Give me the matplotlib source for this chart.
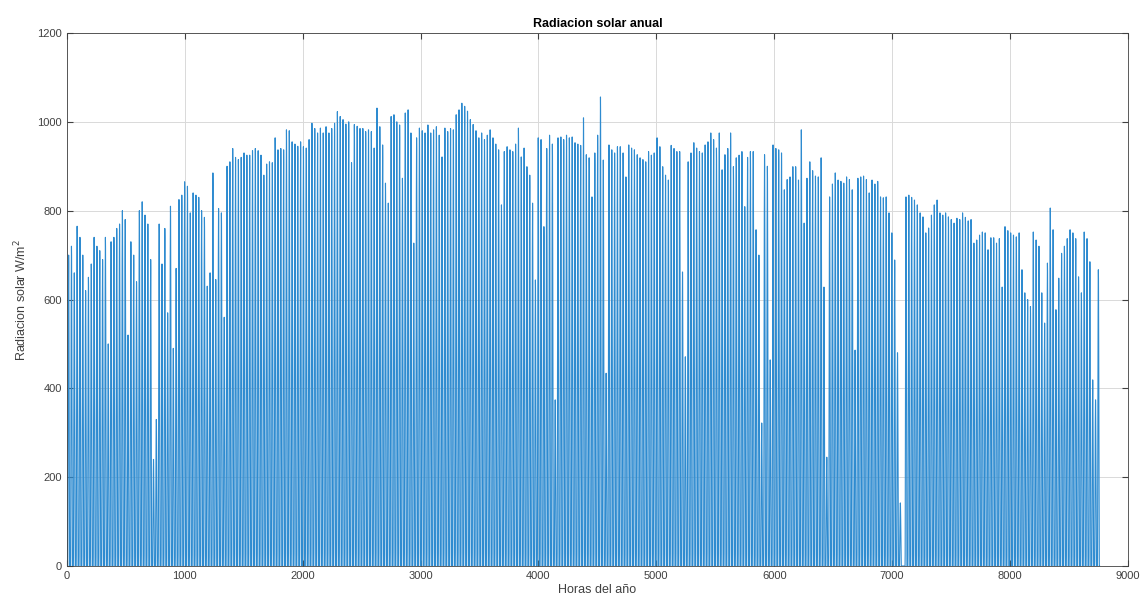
import matplotlib

matplotlib.use("Agg")
import matplotlib.pyplot as plt
import numpy as np

# Daily peak irradiance (W/m2), one value per day
DAILY_PEAK = [
    # days 0-36
    700, 720, 660, 765, 740, 700, 620, 650, 680, 740, 720, 710, 690, 740, 500,
    730, 740, 760, 770, 800, 780, 520, 730, 700, 640, 800, 820, 790, 770, 690,
    240, 330, 770, 680, 760, 570, 810,
    # days 37-71
    490, 670, 825, 835, 865, 855, 795, 840, 835, 830, 800, 785, 630, 660, 885,
    645, 805, 795, 560, 900, 910, 940, 920, 915, 920, 930, 925, 925, 935, 940,
    935, 925, 880, 905, 910,
    # days 72-106
    908, 964, 937, 940, 937, 982, 980, 955, 950, 945, 955, 944, 941, 960, 997,
    985, 975, 986, 975, 989, 975, 985, 997, 1023, 1012, 1005, 995, 1000, 908,
    994, 990, 985, 985, 978, 982,
    # days 107-141
    978, 941, 1031, 989, 948, 862, 817, 1012, 1016, 1000, 993, 873, 1020, 1027,
    975, 727, 964, 986, 980, 975, 993, 975, 982, 989, 970, 921, 986, 978, 985,
    982, 1016, 1027, 1042, 1035, 1024,
    # days 142-177
    1005, 994, 980, 964, 975, 960, 970, 982, 964, 950, 937, 813, 933, 944, 937,
    933, 950, 986, 921, 941, 899, 880, 817, 644, 964, 960, 764, 940, 970, 950,
    374, 964, 966, 960, 970, 964,
    # days 178-212
    966, 953, 950, 947, 1009, 926, 919, 831, 930, 970, 1056, 914, 434, 948, 937,
    930, 944, 944, 930, 876, 948, 941, 937, 926, 919, 915, 910, 933, 925, 930,
    964, 944, 899, 880, 869,
    # days 213-248
    947, 940, 933, 933, 662, 471, 910, 930, 953, 941, 933, 930, 948, 955, 975,
    960, 941, 975, 892, 926, 940, 975, 899, 919, 925, 933, 809, 920, 933, 933,
    757, 700, 322, 926, 900, 464,
    # days 249-283
    948, 940, 937, 930, 847, 870, 876, 899, 899, 869, 982, 772, 873, 910, 890,
    878, 876, 919, 628, 245, 831, 860, 885, 869, 866, 862, 876, 870, 847, 486,
    873, 876, 878, 870, 840,
    # days 284-318
    869, 860, 866, 831, 829, 831, 795, 750, 689, 480, 142, 0, 831, 835, 830,
    824, 813, 795, 786, 750, 761, 790, 813, 824, 795, 790, 795, 786, 780, 772,
    783, 780, 795, 785, 777,
    # days 319-354
    780, 727, 734, 745, 752, 750, 712, 739, 739, 727, 737, 628, 764, 755, 750,
    745, 741, 750, 667, 615, 600, 584, 752, 734, 720, 615, 547, 682, 806, 757,
    577, 648, 704, 720, 737, 757,
    # days 355-364
    750, 737, 651, 615, 752, 737, 685, 419, 374, 667,
]

# Typical shape of one day, fraction of the daily peak for each hour 0..23
HOUR_PROFILE = [0, 0, 0, 0, 0, 0, 0.03, 0.15, 0.34, 0.54, 0.72, 0.86,
                0.95, 1.0, 0.97, 0.88, 0.74, 0.56, 0.36, 0.16, 0.03, 0, 0, 0]

X_TICKS = [0, 1000, 2000, 3000, 4000, 5000, 6000, 7000, 8000, 9000]
Y_TICKS = [0, 200, 400, 600, 800, 1000, 1200]

radiation = np.repeat(DAILY_PEAK, 24) * np.tile(HOUR_PROFILE, len(DAILY_PEAK))
hours = np.arange(1, len(radiation) + 1)

plt.rcParams.update({
    "font.family": ["Liberation Sans", "DejaVu Sans"],
    "font.size": 8,
})

fig = plt.figure(figsize=(11.45, 6.06), dpi=100)
ax = fig.add_axes([0.0585, 0.066, 0.9265, 0.8795])

ax.plot(hours, radiation, color="#2e8bd0", lw=0.8)

ax.set_xlim(0, 9000)
ax.set_ylim(0, 1200)
ax.set_xticks(X_TICKS)
ax.set_yticks(Y_TICKS)
ax.grid(True, color="#d9d9d9", lw=0.7)
ax.set_axisbelow(True)
ax.tick_params(direction="in", length=4, colors="#404040", labelsize=8,
               top=True, right=True, labeltop=False, labelright=False)
for sp in ax.spines.values():
    sp.set_color("#404040")
    sp.set_linewidth(0.6)

ax.set_title("Radiacion solar anual", fontsize=9, fontweight="bold",
             color="black", pad=4)
ax.set_xlabel("Horas del año", fontsize=9, color="#404040", labelpad=2)
ax.set_ylabel("Radiacion solar W/m$^2$", fontsize=9, color="#404040",
              labelpad=6)

fig.savefig("out.png", dpi=100)
